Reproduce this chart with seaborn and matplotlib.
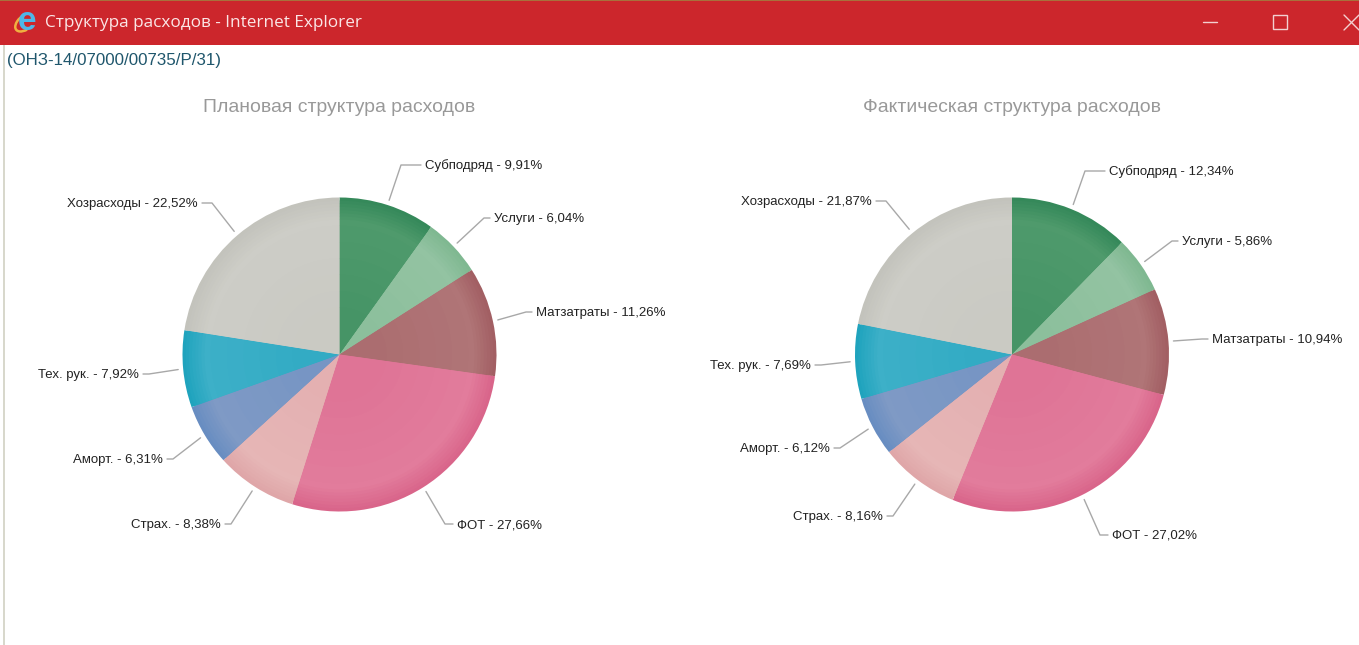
import numpy as np
import matplotlib
matplotlib.use("Agg")
import matplotlib.pyplot as plt
from matplotlib.patches import Rectangle, Arc
import seaborn as sns

# данные
categories = ['Субподряд', 'Услуги', 'Матзатраты', 'ФОТ', 'Страх.', 'Аморт.', 'Тех. рук.', 'Хозрасходы']
plan_values = [9.91, 6.04, 11.26, 27.66, 8.38, 6.31, 7.92, 22.52]
fact_values = [12.34, 5.86, 10.94, 27.02, 8.16, 6.12, 7.69, 21.87]
plan_text = ['9,91', '6,04', '11,26', '27,66', '8,38', '6,31', '7,92', '22,52']
fact_text = ['12,34', '5,86', '10,94', '27,02', '8,16', '6,12', '7,69', '21,87']

# оформление
W, H = 1359, 645
R = 157
rim_colors = ['#35895a', '#7fb891', '#a25f63', '#d9658a', '#dfa6a8', '#688dc1', '#1fa3bd', '#c3c3bc']
mid_colors = ['#4f9a6c', '#93c3a2', '#b07577', '#e27c9c', '#e6b6b6', '#7f9ac5', '#3db0c8', '#cdcdc7']
plan_pos = [(425, 166), (494, 219), (536, 313), (457, 525), (221, 525), (163, 460), (139, 375), (198, 204)]
fact_pos = [(1109, 172), (1182, 242), (1212, 340), (1112, 536), (883, 517), (830, 449), (811, 366), (872, 202)]
elbow_len = [20, 6, 6, 8, 6, 6, 6, 10]

sns.set_theme(style='white')
plt.rcParams['font.family'] = ['Liberation Sans', 'DejaVu Sans']

fig = plt.figure(figsize=(W / 100, H / 100), dpi=100)
ax = fig.add_axes([0, 0, 1, 1])


def Y(y):
    return H - y


def draw_pie(cx, cy, values, text, positions):
    rim = sns.color_palette(rim_colors)
    mid = sns.color_palette(mid_colors)
    # кольца от края к центру, чтобы получить объём
    for k, frac in enumerate(np.linspace(1.0, 0.86, 8)):
        t = k / 7
        cols = [tuple(np.array(a) * (1 - t) + np.array(b) * t) for a, b in zip(rim, mid)]
        ax.pie(values, colors=cols, startangle=90, counterclock=False, center=(cx, Y(cy)),
               radius=R * frac, frame=False, wedgeprops={'linewidth': 0})
    # к центру сектор немного темнее
    for k, frac in enumerate(np.linspace(0.82, 0.3, 6)):
        t = 0.35 * (k + 1) / 6
        cols = [tuple(np.array(b) * (1 - t) + np.array(a) * t) for a, b in zip(rim, mid)]
        ax.pie(values, colors=cols, startangle=90, counterclock=False, center=(cx, Y(cy)),
               radius=R * frac, frame=False, wedgeprops={'linewidth': 0})
    # подписи с выносками
    edges = np.cumsum([0] + list(values)) / sum(values) * 2 * np.pi
    for i, name in enumerate(categories):
        a = (edges[i] + edges[i + 1]) / 2
        x0, y0 = cx + (R + 5) * np.sin(a), cy - (R + 5) * np.cos(a)
        tx, ty = positions[i]
        side = 1 if a < np.pi else -1
        end = tx - 4 * side
        elbow = end - elbow_len[i] * side
        ax.plot([x0, elbow, end], [Y(y0), Y(ty - 1), Y(ty - 1)], color='#a8a8a8', lw=1, solid_joinstyle='round')
        ax.text(tx, Y(ty), f'{name} - {text[i]}%', fontsize=9.55, color='#222222',
                ha='left' if side > 0 else 'right', va='center')


draw_pie(339.5, 354.5, plan_values, plan_text, plan_pos)
draw_pie(1012, 354.5, fact_values, fact_text, fact_pos)

ax.set_xlim(0, W)
ax.set_ylim(0, H)
ax.set_aspect('auto')
ax.axis('off')

# заголовок окна
ax.add_patch(Rectangle((0, Y(45)), W, 44, color='#cc262c', lw=0))
ax.add_patch(Rectangle((0, Y(1)), W, 1, color='#a8703c', lw=0))
ax.add_patch(Rectangle((3, 0), 1.5, Y(45), color='#d8d8cc', lw=0))
ax.add_patch(Arc((26, Y(22)), 25, 14, angle=38, theta1=70, theta2=240, color='#f0b040', lw=1.8))
ax.text(27, Y(22), 'e', fontsize=24, color='#4fb6e8', fontweight='bold',
        ha='center', va='center', family='Liberation Sans')
ax.text(45, Y(23), 'Структура расходов - Internet Explorer', fontsize=12.35, color='#fbe6e6',
        ha='left', va='center', family='Open Sans')
ax.plot([1203, 1217], [Y(22), Y(22)], color='#f3d0d0', lw=1)
ax.add_patch(Rectangle((1273, Y(29)), 14, 14, fill=False, ec='#f3d0d0', lw=1))
ax.plot([1344, 1359], [Y(15), Y(30)], color='#f3d0d0', lw=1)
ax.plot([1344, 1359], [Y(30), Y(15)], color='#f3d0d0', lw=1)

ax.text(7, Y(60), '(ОНЗ-14/07000/00735/Р/31)', fontsize=12.15, color='#1f566c', ha='left', va='center')
ax.text(339.5, Y(107), 'Плановая структура расходов', fontsize=13.95, color='#999999', ha='center', va='center')
ax.text(1012, Y(107), 'Фактическая структура расходов', fontsize=13.95, color='#999999', ha='center', va='center')

fig.savefig('out.png', dpi=100)
